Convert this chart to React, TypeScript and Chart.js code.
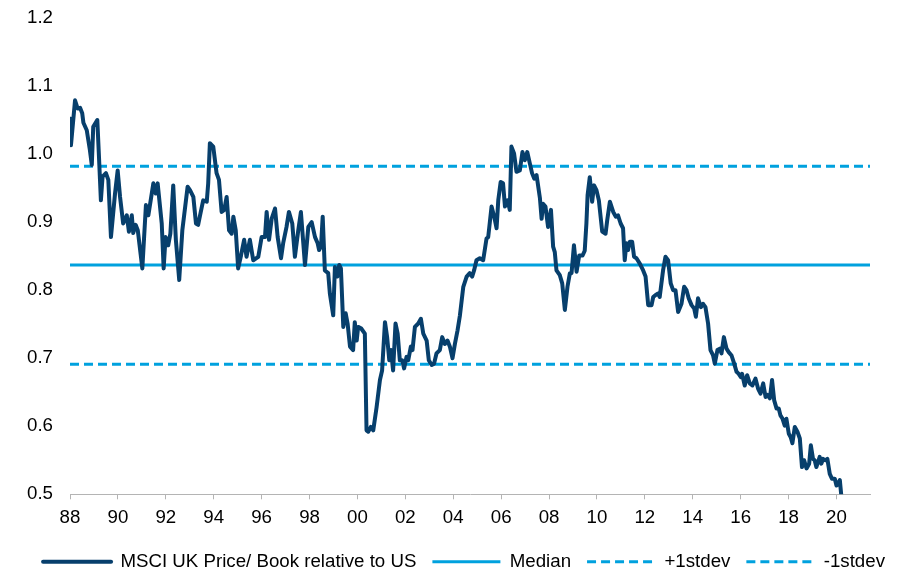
import { useEffect, useRef } from "react";
import { Chart, registerables } from "chart.js";

Chart.register(...registerables);

const FONT = "'Liberation Sans', Arial, sans-serif";
const NAVY = "#073f6c";
const LIGHT_BLUE = "#00a1de";
const AXIS_GRAY = "#b4b4b4";

const X_MIN = 1988;
const X_MAX = 2021.4;
const Y_MIN = 0.5;
const Y_MAX = 1.2;

const seriesLabels = [
  "MSCI UK Price/ Book relative to US",
  "Median",
  "+1stdev",
  "-1stdev",
];

const medianValue = 0.837;
const plusOneStdev = 0.982;
const minusOneStdev = 0.691;

// [year, UK P/B relative to US]
const ukPB: [number, number][] = [
  [1988.0, 1.052], [1988.04, 1.013], [1988.21, 1.079], [1988.32, 1.067], [1988.42, 1.068],
  [1988.51, 1.06], [1988.56, 1.046], [1988.7, 1.035], [1988.83, 1.006], [1988.91, 0.984],
  [1988.97, 1.04], [1989.14, 1.05], [1989.21, 0.996], [1989.29, 0.932], [1989.36, 0.967],
  [1989.5, 0.972], [1989.6, 0.962], [1989.71, 0.878], [1989.88, 0.942], [1989.99, 0.976],
  [1990.09, 0.937], [1990.22, 0.898], [1990.37, 0.91], [1990.46, 0.886], [1990.58, 0.91],
  [1990.64, 0.884], [1990.74, 0.896], [1990.83, 0.888], [1991.02, 0.832], [1991.17, 0.925],
  [1991.27, 0.91], [1991.48, 0.957], [1991.58, 0.942], [1991.66, 0.957], [1991.83, 0.898],
  [1991.91, 0.832], [1991.99, 0.878], [1992.1, 0.866], [1992.19, 0.883], [1992.31, 0.954],
  [1992.42, 0.874], [1992.56, 0.815], [1992.69, 0.888], [1992.91, 0.952], [1993.01, 0.947],
  [1993.15, 0.937], [1993.26, 0.898], [1993.35, 0.896], [1993.43, 0.91], [1993.56, 0.932],
  [1993.71, 0.93], [1993.77, 0.957], [1993.84, 1.016], [1993.98, 1.011], [1994.12, 0.972],
  [1994.22, 0.962], [1994.33, 0.915], [1994.44, 0.918], [1994.54, 0.937], [1994.64, 0.888],
  [1994.75, 0.883], [1994.82, 0.908], [1994.92, 0.888], [1995.02, 0.832], [1995.14, 0.851],
  [1995.27, 0.874], [1995.37, 0.849], [1995.51, 0.874], [1995.65, 0.844], [1995.86, 0.849],
  [1996.0, 0.878], [1996.14, 0.878], [1996.21, 0.915], [1996.31, 0.874], [1996.42, 0.905],
  [1996.56, 0.92], [1996.67, 0.878], [1996.81, 0.847], [1996.9, 0.869], [1997.04, 0.893],
  [1997.14, 0.915], [1997.28, 0.898], [1997.39, 0.849], [1997.53, 0.888], [1997.64, 0.915],
  [1997.74, 0.869], [1997.81, 0.837], [1997.95, 0.893], [1998.09, 0.9], [1998.23, 0.878],
  [1998.34, 0.869], [1998.4, 0.859], [1998.48, 0.864], [1998.55, 0.908], [1998.64, 0.829],
  [1998.78, 0.825], [1998.85, 0.795], [1998.99, 0.763], [1999.06, 0.834], [1999.16, 0.82],
  [1999.24, 0.837], [1999.31, 0.832], [1999.41, 0.746], [1999.51, 0.766], [1999.59, 0.751],
  [1999.69, 0.717], [1999.82, 0.712], [1999.89, 0.753], [1999.97, 0.726], [2000.03, 0.746],
  [2000.15, 0.744], [2000.31, 0.736], [2000.38, 0.594], [2000.45, 0.592], [2000.56, 0.599],
  [2000.66, 0.594], [2000.8, 0.628], [2000.94, 0.668], [2001.03, 0.682], [2001.15, 0.753],
  [2001.24, 0.731], [2001.33, 0.697], [2001.4, 0.712], [2001.49, 0.682], [2001.59, 0.751],
  [2001.68, 0.736], [2001.77, 0.697], [2001.87, 0.697], [2001.95, 0.685], [2002.05, 0.702],
  [2002.12, 0.697], [2002.23, 0.717], [2002.3, 0.712], [2002.4, 0.746], [2002.54, 0.751],
  [2002.65, 0.758], [2002.75, 0.736], [2002.89, 0.726], [2002.98, 0.697], [2003.1, 0.69],
  [2003.2, 0.692], [2003.3, 0.707], [2003.44, 0.712], [2003.54, 0.731], [2003.65, 0.721],
  [2003.76, 0.726], [2003.86, 0.717], [2003.97, 0.7], [2004.07, 0.721], [2004.18, 0.741],
  [2004.28, 0.763], [2004.42, 0.805], [2004.56, 0.82], [2004.69, 0.825], [2004.79, 0.82],
  [2004.87, 0.829], [2004.97, 0.844], [2005.11, 0.847], [2005.25, 0.844], [2005.39, 0.876],
  [2005.46, 0.878], [2005.6, 0.923], [2005.71, 0.908], [2005.81, 0.891], [2005.88, 0.932],
  [2005.98, 0.959], [2006.08, 0.957], [2006.16, 0.923], [2006.27, 0.932], [2006.36, 0.918],
  [2006.43, 1.011], [2006.54, 1.001], [2006.64, 0.974], [2006.78, 0.976], [2006.89, 1.003],
  [2006.99, 0.991], [2007.09, 1.003], [2007.2, 0.986], [2007.29, 0.972], [2007.38, 0.964],
  [2007.48, 0.969], [2007.62, 0.935], [2007.69, 0.905], [2007.75, 0.927], [2007.85, 0.923],
  [2007.96, 0.893], [2008.08, 0.918], [2008.17, 0.864], [2008.24, 0.856], [2008.31, 0.829],
  [2008.45, 0.822], [2008.55, 0.81], [2008.66, 0.771], [2008.77, 0.805], [2008.87, 0.825],
  [2008.94, 0.825], [2009.04, 0.866], [2009.15, 0.827], [2009.26, 0.851], [2009.4, 0.851],
  [2009.49, 0.858], [2009.56, 0.898], [2009.61, 0.94], [2009.7, 0.966], [2009.8, 0.93],
  [2009.88, 0.954], [2009.98, 0.947], [2010.08, 0.932], [2010.22, 0.886], [2010.36, 0.883],
  [2010.43, 0.903], [2010.54, 0.93], [2010.68, 0.915], [2010.79, 0.908], [2010.88, 0.91],
  [2010.99, 0.898], [2011.09, 0.891], [2011.16, 0.844], [2011.23, 0.869], [2011.3, 0.859],
  [2011.37, 0.871], [2011.47, 0.871], [2011.55, 0.849], [2011.65, 0.847], [2011.79, 0.839],
  [2011.93, 0.829], [2012.03, 0.82], [2012.14, 0.778], [2012.28, 0.778], [2012.35, 0.79],
  [2012.45, 0.793], [2012.55, 0.795], [2012.62, 0.79], [2012.76, 0.829], [2012.86, 0.849],
  [2012.97, 0.844], [2013.08, 0.81], [2013.18, 0.8], [2013.28, 0.8], [2013.39, 0.768],
  [2013.53, 0.78], [2013.64, 0.805], [2013.74, 0.8], [2013.83, 0.788], [2013.95, 0.778],
  [2014.06, 0.773], [2014.13, 0.761], [2014.22, 0.788], [2014.34, 0.775], [2014.43, 0.78],
  [2014.53, 0.775], [2014.64, 0.751], [2014.74, 0.712], [2014.85, 0.704], [2014.92, 0.692],
  [2015.03, 0.712], [2015.13, 0.714], [2015.2, 0.707], [2015.3, 0.731], [2015.41, 0.714],
  [2015.5, 0.709], [2015.62, 0.704], [2015.73, 0.692], [2015.83, 0.68], [2015.92, 0.677],
  [2016.01, 0.672], [2016.06, 0.677], [2016.17, 0.66], [2016.27, 0.675], [2016.38, 0.663],
  [2016.49, 0.66], [2016.62, 0.67], [2016.73, 0.655], [2016.83, 0.648], [2016.94, 0.663],
  [2017.04, 0.643], [2017.12, 0.646], [2017.22, 0.641], [2017.31, 0.668], [2017.4, 0.638],
  [2017.5, 0.626], [2017.59, 0.626], [2017.66, 0.616], [2017.75, 0.611], [2017.84, 0.601],
  [2017.91, 0.611], [2018.01, 0.589], [2018.09, 0.584], [2018.16, 0.575], [2018.26, 0.599],
  [2018.37, 0.592], [2018.47, 0.582], [2018.56, 0.54], [2018.65, 0.55], [2018.75, 0.538],
  [2018.86, 0.545], [2018.93, 0.572], [2019.02, 0.552], [2019.09, 0.55], [2019.16, 0.54],
  [2019.3, 0.555], [2019.37, 0.545], [2019.44, 0.552], [2019.54, 0.55], [2019.62, 0.552],
  [2019.72, 0.53], [2019.81, 0.523], [2019.93, 0.523], [2020.0, 0.513], [2020.07, 0.516],
  [2020.14, 0.521], [2020.21, 0.495],
];

export default function App() {
  const canvasRef = useRef<HTMLCanvasElement>(null);

  useEffect(() => {
    const canvas = canvasRef.current;
    if (!canvas) return;
    const flat = (v: number) => [
      { x: X_MIN, y: v },
      { x: X_MAX, y: v },
    ];
    const font = { family: FONT, size: 18.7 };
    const chart = new Chart(canvas, {
      type: "line",
      data: {
        datasets: [
          {
            label: seriesLabels[0],
            data: ukPB.map(([x, y]) => ({ x, y })),
            borderColor: NAVY,
            backgroundColor: NAVY,
            borderWidth: 4,
            pointRadius: 0,
            tension: 0,
            borderJoinStyle: "round",
            borderCapStyle: "round",
          },
          {
            label: seriesLabels[1],
            data: flat(medianValue),
            borderColor: LIGHT_BLUE,
            backgroundColor: LIGHT_BLUE,
            borderWidth: 3,
            pointRadius: 0,
          },
          {
            label: seriesLabels[2],
            data: flat(plusOneStdev),
            borderColor: LIGHT_BLUE,
            backgroundColor: LIGHT_BLUE,
            borderWidth: 3,
            borderDash: [9, 5],
            pointRadius: 0,
          },
          {
            label: seriesLabels[3],
            data: flat(minusOneStdev),
            borderColor: LIGHT_BLUE,
            backgroundColor: LIGHT_BLUE,
            borderWidth: 3,
            borderDash: [9, 5],
            pointRadius: 0,
          },
        ],
      },
      options: {
        animation: false,
        responsive: false,
        events: [],
        layout: { padding: { top: 18, left: 27, right: 0, bottom: 0 } },
        plugins: {
          legend: {
            position: "bottom",
            align: "end",
            labels: {
              usePointStyle: true,
              pointStyle: "line",
              pointStyleWidth: 68,
              boxHeight: 18,
              padding: 16,
              color: "#000",
              font,
              generateLabels: (c: any) => {
                const items = (Chart.defaults.plugins.legend.labels as any).generateLabels(c);
                return items.map((it: any, i: number) => {
                  const ds: any = c.data.datasets[i];
                  return {
                    ...it,
                    pointStyle: "line",
                    strokeStyle: ds.borderColor,
                    fillStyle: ds.borderColor,
                    lineWidth: ds.borderWidth,
                    lineDash: ds.borderDash || [],
                    lineCap: i === 0 ? "round" : "butt",
                  };
                });
              },
            },
          },
          tooltip: { enabled: false },
        },
        scales: {
          x: {
            type: "linear",
            min: X_MIN,
            max: X_MAX,
            afterFit: (s: any) => {
              s.height = 42;
            },
            grid: {
              drawOnChartArea: false,
              drawTicks: true,
              tickLength: 5,
              color: AXIS_GRAY,
              lineWidth: 1,
            },
            border: { display: true, color: AXIS_GRAY, width: 1 },
            ticks: {
              stepSize: 2,
              includeBounds: false,
              autoSkip: false,
              maxRotation: 0,
              padding: 7,
              color: "#000",
              font,
              callback: (v: any) => String(Math.round(Number(v)) % 100).padStart(2, "0"),
            },
          },
          y: {
            type: "linear",
            min: Y_MIN,
            max: Y_MAX,
            afterFit: (s: any) => {
              s.width = 43;
            },
            grid: { display: false, drawTicks: false },
            border: { display: false },
            ticks: {
              stepSize: 0.1,
              padding: 0,
              crossAlign: "far",
              color: "#000",
              font,
              callback: (v: any) => Number(v).toFixed(1),
            },
          },
          yPad: {
            type: "linear",
            position: "right",
            display: true,
            afterFit: (s: any) => {
              s.width = 31;
            },
            grid: { display: false, drawTicks: false },
            border: { display: false },
            ticks: { display: false },
          },
        },
      },
    } as any);
    return () => chart.destroy();
  }, []);

  return (
    <div
      style={{
        position: "fixed",
        left: 0,
        top: 0,
        width: 901,
        height: 569,
        overflow: "hidden",
        background: "#fff",
      }}
    >
      <canvas ref={canvasRef} width={901} height={581} style={{ display: "block" }} />
    </div>
  );
}
